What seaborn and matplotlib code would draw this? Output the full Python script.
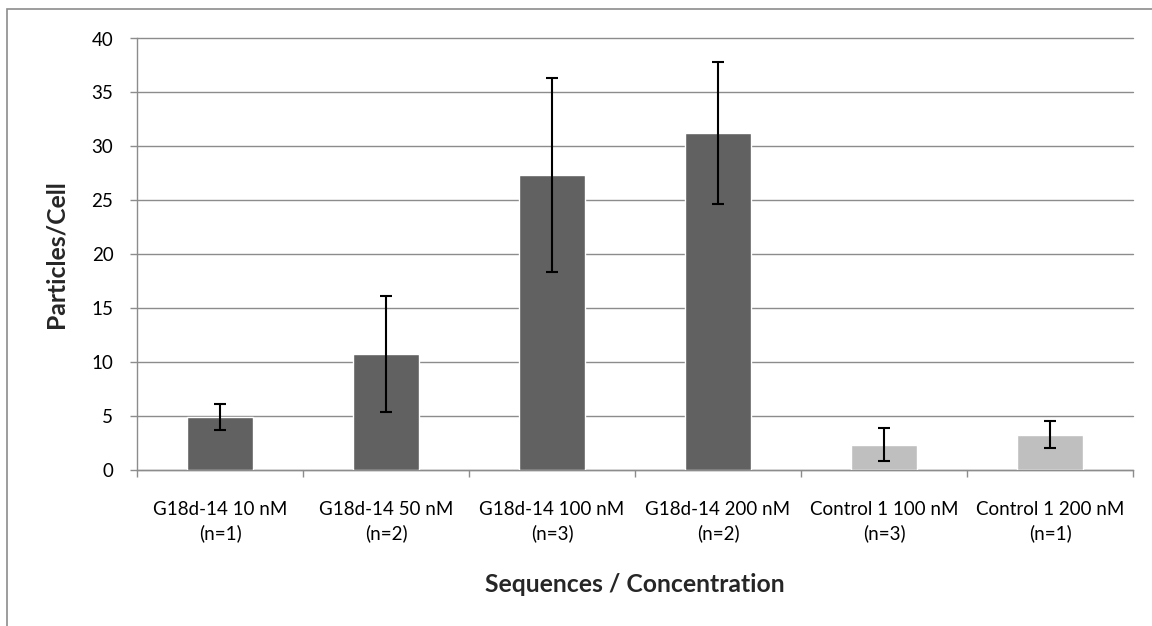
import matplotlib
matplotlib.use("Agg")
import matplotlib.pyplot as plt
import matplotlib.patches as mpatches
import seaborn as sns
import pandas as pd

categories = ["G18d-14 10 nM\n(n=1)", "G18d-14 50 nM\n(n=2)", "G18d-14 100 nM\n(n=3)",
              "G18d-14 200 nM\n(n=2)", "Control 1 100 nM\n(n=3)", "Control 1 200 nM\n(n=1)"]
values = [4.95, 10.77, 27.35, 31.23, 2.34, 3.28]
errors = [1.2, 5.35, 9.0, 6.6, 1.53, 1.22]
bar_colors = ["#616161", "#616161", "#616161", "#616161", "#bfbfbf", "#bfbfbf"]
y_ticks = [0, 5, 10, 15, 20, 25, 30, 35, 40]

sns.set_theme(style="white")
plt.rcParams["font.family"] = ["Lato", "DejaVu Sans"]

W, H = 1152, 626
fig = plt.figure(figsize=(W / 100, H / 100), dpi=100)
# chart-area frame: only its top and left edges fall inside the image
fig.patches.append(mpatches.Rectangle((7 / W, 1 - 660 / H), (1200 - 7) / W, (660 - 9) / H,
                                      transform=fig.transFigure, fill=False,
                                      edgecolor="#8c8c8c", linewidth=1.2))
ax = fig.add_axes([137 / W, 1 - 470 / H, (1133 - 137) / W, (470 - 38.5) / H])

df = pd.DataFrame({"cat": categories, "val": values})
sns.barplot(data=df, x="cat", y="val", hue="cat", palette=bar_colors, legend=False,
            width=0.4, ax=ax, saturation=1, zorder=3)
ax.errorbar(range(len(categories)), values, yerr=errors, fmt="none", ecolor="black",
            elinewidth=1.5, capsize=4.5, capthick=1.5, zorder=4)

ax.set_ylim(0, 40)
ax.set_xlim(-0.5, len(categories) - 0.5)
ax.set_yticks(y_ticks)
ax.yaxis.grid(True, color="#8c8c8c", linewidth=1.0, zorder=0)
ax.set_axisbelow(True)
for line in ax.get_ygridlines():
    line.set_clip_on(False)
for s in ["top", "right"]:
    ax.spines[s].set_visible(False)
for s in ["left", "bottom"]:
    ax.spines[s].set_color("#8c8c8c")
    ax.spines[s].set_linewidth(1.0)

ax.tick_params(axis="y", which="major", left=True, length=5, width=1, color="#8c8c8c",
               labelsize=13.5, pad=12, labelcolor="black")
ax.tick_params(axis="x", which="major", bottom=False, length=0, labelsize=13.5, pad=22,
               labelcolor="black")
ax.set_xticks([i - 0.5 for i in range(len(categories) + 1)], minor=True)
ax.tick_params(axis="x", which="minor", bottom=True, length=5, width=1, color="#8c8c8c")
ax.set_xticklabels(categories, linespacing=1.45)

ax.set_xlabel("Sequences / Concentration", fontsize=17.8, fontweight="bold", va="center")
ax.xaxis.set_label_coords(0.5, (470 - 584) / 431.5)
ax.set_ylabel("Particles/Cell", fontsize=17.8, fontweight="bold", va="center")
ax.yaxis.set_label_coords((56 - 137) / 996, 0.5)

fig.savefig("out.png", dpi=100)
